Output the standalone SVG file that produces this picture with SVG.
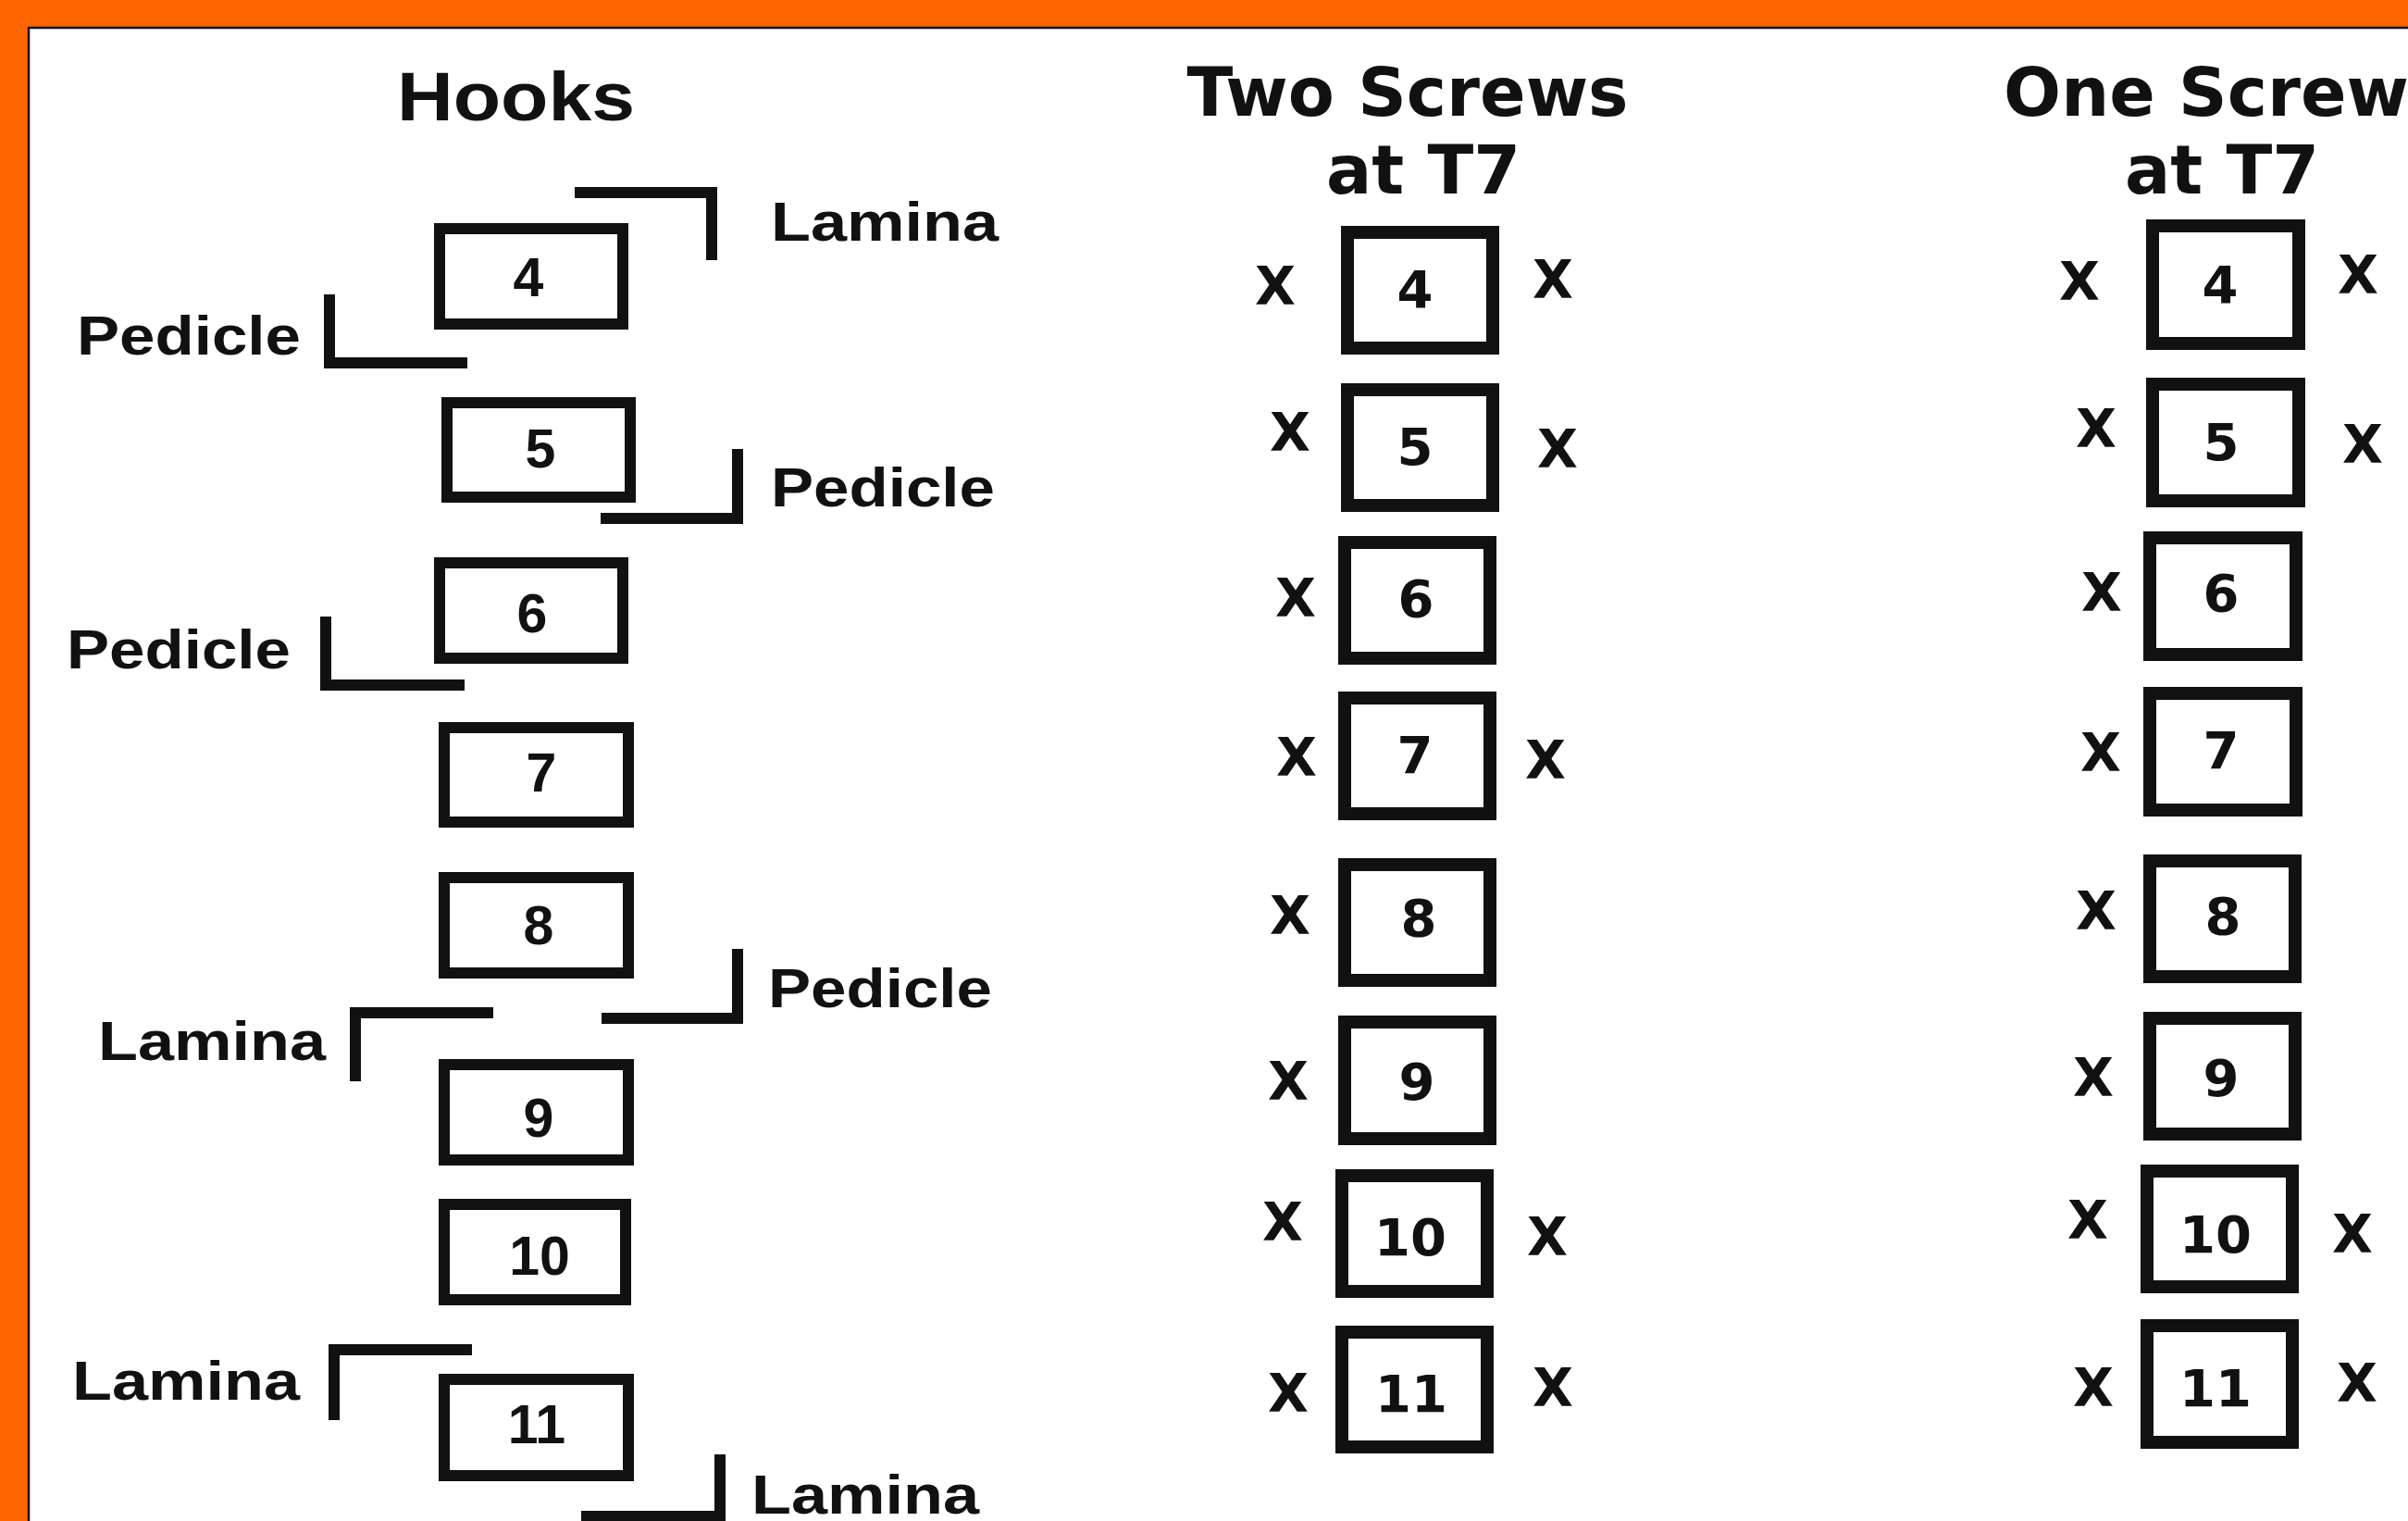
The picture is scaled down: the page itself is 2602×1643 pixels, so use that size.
<svg xmlns="http://www.w3.org/2000/svg" width="2602" height="1643" viewBox="0 0 2602 1643">
<style>
.bg{fill:#ffffff}
.frame{fill:#ff6600}
.edge{stroke:#111;stroke-width:2.5;fill:none}
.hbox{fill:#fff;stroke:#111;stroke-width:12}
.sbox{fill:#fff;stroke:#111;stroke-width:14}
.hook{fill:none;stroke:#111;stroke-width:12;stroke-linejoin:miter}
.hl{font-family:"Liberation Sans",Arial,sans-serif;font-weight:bold;fill:#111;font-size:59px}
.htitle{font-family:"Liberation Sans",Arial,sans-serif;font-weight:bold;fill:#111;font-size:74px}
.hnum{font-family:"Liberation Sans",Arial,sans-serif;font-weight:bold;fill:#111;font-size:59px;text-anchor:middle}
.title{font-family:"DejaVu Sans",Verdana,sans-serif;font-weight:bold;fill:#111;font-size:73px;text-anchor:middle}
.snum{font-family:"DejaVu Sans",Verdana,sans-serif;font-weight:bold;fill:#111;font-size:56px;text-anchor:middle}
.x{font-family:"DejaVu Sans",Verdana,sans-serif;font-weight:bold;fill:#111;font-size:57px;text-anchor:middle}
</style>
<rect class="bg" x="0" y="0" width="2602" height="1643"/>
<rect class="frame" x="0" y="0" width="2602" height="29"/>
<rect class="frame" x="0" y="0" width="31" height="1643"/>
<path class="edge" d="M31,1643 V30 H2602"/>

<!-- Hooks column -->
<text class="htitle" x="429" y="130" textLength="257" lengthAdjust="spacingAndGlyphs">Hooks</text>

<g id="h4"><rect class="hbox" x="475" y="247" width="198" height="103"/><text class="hnum" x="571" y="320">4</text></g>
<g id="h5"><rect class="hbox" x="483" y="435" width="198" height="102"/><text class="hnum" x="584" y="505">5</text></g>
<g id="h6"><rect class="hbox" x="475" y="608" width="198" height="103"/><text class="hnum" x="575" y="683">6</text></g>
<g id="h7"><rect class="hbox" x="480" y="786" width="199" height="102"/><text class="hnum" x="585" y="855">7</text></g>
<g id="h8"><rect class="hbox" x="480" y="948" width="199" height="103"/><text class="hnum" x="582" y="1020">8</text></g>
<g id="h9"><rect class="hbox" x="480" y="1150" width="199" height="103"/><text class="hnum" x="582" y="1228">9</text></g>
<g id="h10"><rect class="hbox" x="480" y="1301" width="196" height="103"/><text class="hnum" x="583" y="1377">10</text></g>
<g id="h11"><rect class="hbox" x="480" y="1490" width="199" height="104"/><text class="hnum" x="580" y="1559">11</text></g>

<g id="connectors">
<path class="hook" d="M621,208 H769 V281"/>
<path class="hook" d="M356,318 V392 H505"/>
<path class="hook" d="M797,485 V560 H649"/>
<path class="hook" d="M352,666 V740 H502"/>
<path class="hook" d="M797,1025 V1100 H650"/>
<path class="hook" d="M533,1094 H384 V1168"/>
<path class="hook" d="M510,1458 H361 V1534"/>
<path class="hook" d="M778,1571 V1638 H628"/>
</g>

<g id="hook-labels">
<text class="hl" x="833" y="260" textLength="246" lengthAdjust="spacingAndGlyphs">Lamina</text>
<text class="hl" x="83" y="383" textLength="242" lengthAdjust="spacingAndGlyphs">Pedicle</text>
<text class="hl" x="833" y="547" textLength="242" lengthAdjust="spacingAndGlyphs">Pedicle</text>
<text class="hl" x="72" y="722" textLength="242" lengthAdjust="spacingAndGlyphs">Pedicle</text>
<text class="hl" x="830" y="1088" textLength="242" lengthAdjust="spacingAndGlyphs">Pedicle</text>
<text class="hl" x="106" y="1145" textLength="246" lengthAdjust="spacingAndGlyphs">Lamina</text>
<text class="hl" x="78" y="1512" textLength="246" lengthAdjust="spacingAndGlyphs">Lamina</text>
<text class="hl" x="812" y="1635" textLength="246" lengthAdjust="spacingAndGlyphs">Lamina</text>
</g>

<!-- Two Screws column -->
<text class="title" x="1521" y="125">Two Screws</text>
<text class="title" x="1538" y="209">at T7</text>

<g id="a4"><rect class="sbox" x="1456" y="251" width="157" height="125"/><text class="snum" x="1529" y="332">4</text></g>
<g id="a5"><rect class="sbox" x="1456" y="421" width="157" height="125"/><text class="snum" x="1529" y="502">5</text></g>
<g id="a6"><rect class="sbox" x="1453" y="586" width="157" height="125"/><text class="snum" x="1530" y="666">6</text></g>
<g id="a7"><rect class="sbox" x="1453" y="754" width="157" height="125"/><text class="snum" x="1529" y="835">7</text></g>
<g id="a8"><rect class="sbox" x="1453" y="934" width="157" height="125"/><text class="snum" x="1533" y="1011">8</text></g>
<g id="a9"><rect class="sbox" x="1453" y="1104" width="157" height="126"/><text class="snum" x="1531" y="1188">9</text></g>
<g id="a10"><rect class="sbox" x="1450" y="1270" width="157" height="125"/><text class="snum" x="1524" y="1356">10</text></g>
<g id="a11"><rect class="sbox" x="1450" y="1439" width="157" height="124"/><text class="snum" x="1525" y="1525">11</text></g>

<g id="two-screw-marks">
<text class="x" x="1378" y="329">X</text>
<text class="x" x="1394" y="487">X</text>
<text class="x" x="1400" y="666">X</text>
<text class="x" x="1401" y="838">X</text>
<text class="x" x="1394" y="1009">X</text>
<text class="x" x="1392" y="1188">X</text>
<text class="x" x="1386" y="1340">X</text>
<text class="x" x="1392" y="1525">X</text>
<text class="x" x="1678" y="322">X</text>
<text class="x" x="1683" y="505">X</text>
<text class="x" x="1670" y="841">X</text>
<text class="x" x="1672" y="1356">X</text>
<text class="x" x="1678" y="1519">X</text>
</g>

<!-- One Screw column -->
<text class="title" x="2384" y="125">One Screw</text>
<text class="title" x="2401" y="209">at T7</text>

<g id="b4"><rect class="sbox" x="2326" y="244" width="158" height="127"/><text class="snum" x="2399" y="327">4</text></g>
<g id="b5"><rect class="sbox" x="2326" y="415" width="158" height="126"/><text class="snum" x="2400" y="497">5</text></g>
<g id="b6"><rect class="sbox" x="2323" y="581" width="158" height="126"/><text class="snum" x="2400" y="660">6</text></g>
<g id="b7"><rect class="sbox" x="2323" y="749" width="158" height="126"/><text class="snum" x="2400" y="830">7</text></g>
<g id="b8"><rect class="sbox" x="2323" y="930" width="157" height="125"/><text class="snum" x="2402" y="1009">8</text></g>
<g id="b9"><rect class="sbox" x="2323" y="1100" width="157" height="125"/><text class="snum" x="2400" y="1184">9</text></g>
<g id="b10"><rect class="sbox" x="2320" y="1265" width="157" height="125"/><text class="snum" x="2394" y="1353">10</text></g>
<g id="b11"><rect class="sbox" x="2320" y="1432" width="157" height="126"/><text class="snum" x="2394" y="1519">11</text></g>

<g id="one-screw-marks">
<text class="x" x="2247" y="324">X</text>
<text class="x" x="2265" y="483">X</text>
<text class="x" x="2271" y="660">X</text>
<text class="x" x="2270" y="833">X</text>
<text class="x" x="2265" y="1004">X</text>
<text class="x" x="2262" y="1184">X</text>
<text class="x" x="2256" y="1338">X</text>
<text class="x" x="2262" y="1519">X</text>
<text class="x" x="2548" y="317">X</text>
<text class="x" x="2553" y="500">X</text>
<text class="x" x="2542" y="1353">X</text>
<text class="x" x="2547" y="1514">X</text>
</g>
</svg>
